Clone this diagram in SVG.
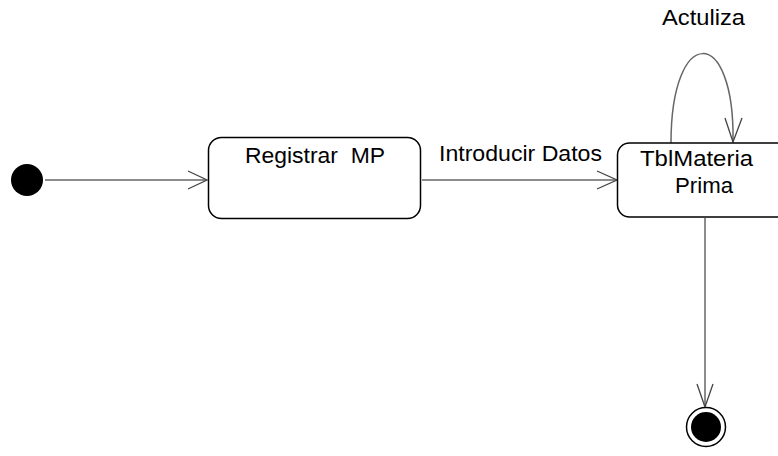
<svg xmlns="http://www.w3.org/2000/svg" width="778" height="456" viewBox="0 0 778 456">
<style>
.node{fill:#fff;stroke:#000;stroke-width:1.5}
.lbl{font-family:"Liberation Sans",Arial,sans-serif;font-size:22px;fill:#000}
.edge{fill:none;stroke:#666;stroke-width:1.5}
.head{fill:none;stroke:#444;stroke-width:1.3}
</style>
<rect width="778" height="456" fill="#fff"/>
<g id="connectors">
<path class="edge" d="M45 180 H206"/>
<path class="head" d="M188 171 L207 180 L188 189"/>
<path class="edge" d="M422 180 H616"/>
<path class="head" d="M597 171 L617 180 L597 189"/>
<path class="edge" d="M671 143 C671 24 735 24 733 142"/>
<path class="head" d="M725 118 L733 142 L742 118"/>
<path class="edge" d="M705 218 V406"/>
<path class="head" d="M697 384 L705 407 L713 384"/>
<text class="lbl" x="439" y="161" textLength="163" lengthAdjust="spacingAndGlyphs">Introducir Datos</text>
<text class="lbl" x="662" y="25" textLength="83" lengthAdjust="spacingAndGlyphs">Actuliza</text>
</g>
<g id="initial">
<circle cx="27" cy="180" r="16" fill="#000"/>
</g>
<g id="registrar">
<rect class="node" x="208.5" y="137.5" width="212" height="81" rx="13"/>
<text class="lbl" x="245" y="163" textLength="140" lengthAdjust="spacingAndGlyphs" xml:space="preserve">Registrar  MP</text>
</g>
<g id="tblmateria">
<rect class="node" x="617.5" y="143" width="200" height="74" rx="12"/>
<text class="lbl" x="640" y="166" textLength="113" lengthAdjust="spacingAndGlyphs">TblMateria</text>
<text class="lbl" x="675" y="193" textLength="58" lengthAdjust="spacingAndGlyphs">Prima</text>
</g>
<g id="final">
<circle cx="706" cy="427" r="19.5" fill="#fff" stroke="#000" stroke-width="1.5"/>
<circle cx="706" cy="427" r="15" fill="#000"/>
</g>
</svg>
